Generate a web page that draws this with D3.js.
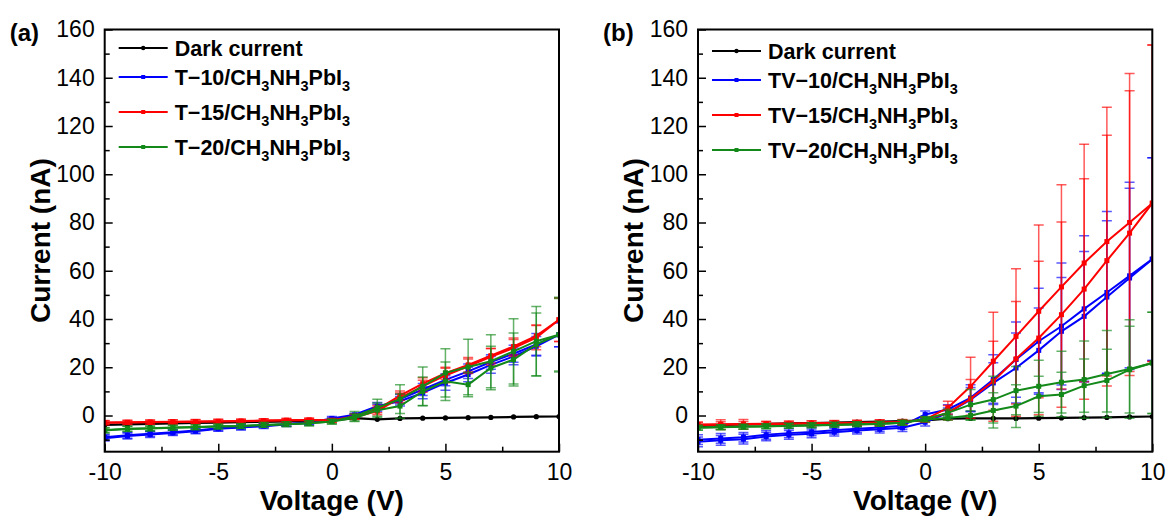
<!DOCTYPE html>
<html>
<head>
<meta charset="utf-8">
<script src="https://d3js.org/d3.v7.min.js"></script>
<style>
  body { margin: 0; background: #fff; }
  text { font-family: Arial, "Liberation Sans", sans-serif; }
</style>
</head>
<body>
<script>
// voltages swept, -10 V .. 10 V in 1 V steps
var volts = d3.range(-10, 11);

var yMajor = [0, 20, 40, 60, 80, 100, 120, 140, 160];
var yMinor = [-10, 10, 30, 50, 70, 90, 110, 130, 150];
var xMajor = [-10, -5, 0, 5, 10];
var xMinor = [-7.5, -2.5, 2.5, 7.5];

// ---- panel (a) ----
var aDark   = [-3.9,-3.7,-3.5,-3.3,-3.1,-3.0,-2.8,-2.6,-2.4,-2.2,-2.0,-1.1,-1.6,-1.2,-1.1,-1.0,-0.9,-0.8,-0.6,-0.5,-0.4];
var aT10f   = [-9.4,-8.5,-7.9,-7.2,-6.5,-5.5,-5.0,-4.4,-3.7,-3.0,-1.2,0.3,3.9,5.9,9.4,13.5,17.0,21.0,24.5,28.7,33.5];
var aT10r   = [-9.0,-8.2,-7.6,-6.9,-6.2,-5.3,-4.8,-4.2,-3.5,-2.8,-1.6,0.0,3.2,6.8,10.8,14.8,18.3,22.2,25.6,29.5,33.5];
var aT10fE  = [1.2,1.2,1.2,1.1,1.1,1.0,1.0,1.0,0.9,0.9,0.8,0.6,1.5,2.0,2.5,3.0,3.0,3.5,3.5,4.0,5.0];
var aT10rE  = [1.2,1.2,1.1,1.1,1.0,1.0,1.0,0.9,0.9,0.8,0.8,0.6,1.5,2.0,2.5,2.5,3.0,3.0,3.5,4.5,5.0];
var aT15f   = [-3.0,-2.9,-2.8,-2.7,-2.6,-2.5,-2.4,-2.2,-2.0,-1.9,-2.2,-0.7,1.8,7.3,12.1,16.6,20.4,24.3,28.0,32.3,39.7];
var aT15r   = [-2.9,-2.8,-2.7,-2.6,-2.5,-2.4,-2.3,-2.1,-2.0,-1.9,-2.0,-0.4,2.6,8.2,13.2,17.5,21.0,24.8,28.6,33.0,39.7];
var aT15fE  = [0.8,0.8,0.8,0.8,0.8,0.8,0.8,0.8,0.8,0.8,0.8,1.0,1.5,2.0,2.5,3.0,3.0,3.5,3.5,5.0,9.0];
var aT15rE  = [0.8,0.8,0.8,0.8,0.8,0.8,0.8,0.8,0.8,0.8,0.8,1.0,1.5,2.0,2.5,2.5,3.0,3.0,3.5,4.5,9.0];
var aT20f   = [-6.2,-5.5,-5.4,-5.1,-4.9,-4.6,-4.4,-3.9,-3.6,-3.2,-2.5,-0.3,3.2,6.8,12.1,17.7,20.1,22.5,26.6,30.8,33.5];
var aT20r   = [-6.0,-5.6,-5.3,-5.0,-4.8,-4.5,-4.3,-3.9,-3.6,-3.2,-2.5,-1.0,2.2,3.9,10.0,14.2,12.8,19.7,23.2,29.5,33.5];
var aT20fE  = [1.0,1.0,1.0,1.0,1.0,1.0,1.0,1.0,1.0,1.0,1.0,2.0,3.5,6.0,8.0,10.0,11.5,11.0,13.5,14.4,15.5];
var aT20rE  = [1.0,1.0,1.0,1.0,1.0,1.0,1.0,1.0,1.0,1.0,1.0,1.5,3.0,5.0,6.0,8.0,5.0,9.0,11.0,13.0,15.0];

// ---- panel (b) ----
var bDark   = [-4.4,-4.0,-3.7,-3.5,-3.3,-3.1,-2.9,-2.7,-2.5,-2.3,-2.0,-1.3,-1.2,-1.2,-1.2,-1.1,-1.0,-0.9,-0.8,-0.6,-0.4];
var bTV10f  = [-10.0,-9.5,-9.0,-8.0,-7.3,-6.8,-6.1,-5.5,-5.0,-4.2,0.4,2.5,7.3,14.9,23.2,30.8,37.0,44.2,51.0,57.9,64.8];
var bTV10r  = [-10.9,-10.3,-9.8,-8.7,-8.0,-7.6,-6.9,-6.2,-5.7,-5.1,-2.8,1.1,6.6,13.5,19.7,27.0,34.9,41.1,49.1,57.0,64.8];
var bTV10fE = [2.0,2.0,2.0,1.8,1.8,1.6,1.6,1.5,1.5,1.5,1.5,2.0,5.5,10.3,15.6,22.0,26.2,30.3,33.6,38.8,42.0];
var bTV10rE = [2.0,2.0,2.0,1.8,1.8,1.6,1.6,1.5,1.5,1.5,1.5,2.0,5.0,8.4,14.5,17.6,22.3,26.9,31.6,37.2,42.0];
var bTV15f  = [-3.9,-3.8,-3.7,-3.6,-3.5,-3.3,-3.2,-3.1,-3.0,-2.8,-1.7,3.2,12.1,22.5,32.8,43.2,53.3,63.2,72.1,80.0,88.0];
var bTV15r  = [-3.7,-3.6,-3.5,-3.4,-3.3,-3.2,-3.1,-3.0,-2.9,-2.7,-1.7,1.1,6.9,14.2,23.5,32.1,41.8,52.4,64.2,75.6,88.0];
var bTV15fE = [1.0,2.0,2.0,1.0,1.0,1.0,1.0,1.0,1.2,1.0,1.0,2.7,12.0,20.3,28.0,35.8,42.3,49.2,55.7,61.8,65.6];
var bTV15rE = [1.0,1.0,1.0,1.0,1.0,1.0,1.0,1.0,1.0,1.0,1.0,3.0,8.0,16.6,23.8,31.8,38.4,45.7,52.0,59.0,65.6];
var bTV20f  = [-5.1,-4.9,-4.7,-4.5,-4.3,-4.1,-3.9,-3.7,-3.5,-3.0,-1.4,1.1,4.5,6.6,10.3,12.1,13.8,14.9,17.2,19.3,21.8];
var bTV20r  = [-5.0,-4.8,-4.6,-4.4,-4.2,-4.0,-3.8,-3.6,-3.4,-3.0,-1.7,-1.0,0.0,2.1,3.9,8.0,8.7,12.4,14.5,19.0,21.8];
var bTV20fE = [1.0,1.0,1.0,1.0,1.0,1.0,1.0,1.0,1.0,1.0,1.0,1.5,6.3,9.7,10.0,10.8,12.8,16.0,18.0,20.4,21.0];
var bTV20rE = [1.0,1.0,1.0,1.0,1.0,1.0,1.0,1.0,1.0,1.0,1.0,1.0,2.0,7.3,8.9,8.3,9.2,11.0,13.0,18.0,21.0];

var blue = "#0000ff", red = "#ff0000", green = "#13891a";

var panels = [
  {
    tag: "(a)", left: 104.7, prefix: "T\u2212", legendTop: 48,
    dark: aDark,
    series: [
      {name: "10", color: blue,  sweeps: [[aT10f, aT10fE], [aT10r, aT10rE]]},
      {name: "15", color: red,   sweeps: [[aT15f, aT15fE], [aT15r, aT15rE]]},
      {name: "20", color: green, sweeps: [[aT20f, aT20fE], [aT20r, aT20rE]]}
    ]
  },
  {
    tag: "(b)", left: 698, prefix: "TV\u2212", legendTop: 51,
    dark: bDark,
    series: [
      {name: "10", color: blue,  sweeps: [[bTV10f, bTV10fE], [bTV10r, bTV10rE]]},
      {name: "15", color: red,   sweeps: [[bTV15f, bTV15fE], [bTV15r, bTV15rE]]},
      {name: "20", color: green, sweeps: [[bTV20f, bTV20fE], [bTV20r, bTV20rE]]}
    ]
  }
];

var W = 1168, H = 518;
var plotTop = 29.5, pw = 454.3, ph = 422.2;
var fontStack = "Arial, 'Liberation Sans', sans-serif";

var svg = d3.select("body").append("svg")
  .attr("width", W).attr("height", H);
svg.append("rect").attr("width", W).attr("height", H).attr("fill", "#fff");

panels.forEach(function (p, pi) {
  var g = svg.append("g").attr("transform", "translate(" + p.left + "," + plotTop + ")");
  var x = d3.scaleLinear().domain([-10, 10]).range([0, pw]);
  var y = d3.scaleLinear().domain([-15, 160]).range([ph, 0]);

  var clipId = "clip" + pi;
  g.append("clipPath").attr("id", clipId)
    .append("rect").attr("width", pw).attr("height", ph);

  var plot = g.append("g").attr("clip-path", "url(#" + clipId + ")");
  var line = d3.line().x(function (d, i) { return x(volts[i]); }).y(function (d) { return y(d); });

  // dark current
  plot.append("path").datum(p.dark)
    .attr("d", line).attr("fill", "none").attr("stroke", "#000").attr("stroke-width", 2.2);
  plot.append("g").selectAll("circle").data(p.dark).enter().append("circle")
    .attr("cx", function (d, i) { return x(volts[i]); })
    .attr("cy", function (d) { return y(d); })
    .attr("r", 2.6).attr("fill", "#000");

  // illuminated series: error bars, lines, markers
  p.series.forEach(function (s) {
    s.sweeps.forEach(function (sw) {
      var vals = sw[0], errs = sw[1];
      var eb = plot.append("g").attr("stroke", s.color).attr("stroke-opacity", 0.65).attr("stroke-width", 1.5);
      vals.forEach(function (v, i) {
        var cx = x(volts[i]), y1 = y(v + errs[i]), y2 = y(v - errs[i]);
        eb.append("line").attr("x1", cx).attr("x2", cx).attr("y1", y1).attr("y2", y2);
        eb.append("line").attr("x1", cx - 5).attr("x2", cx + 5).attr("y1", y1).attr("y2", y1);
        eb.append("line").attr("x1", cx - 5).attr("x2", cx + 5).attr("y1", y2).attr("y2", y2);
      });
    });
    s.sweeps.forEach(function (sw) {
      var vals = sw[0];
      plot.append("path").datum(vals)
        .attr("d", line).attr("fill", "none").attr("stroke", s.color).attr("stroke-width", 2);
      plot.append("g").selectAll("rect").data(vals).enter().append("rect")
        .attr("x", function (d, i) { return x(volts[i]) - 2.5; })
        .attr("y", function (d) { return y(d) - 2.5; })
        .attr("width", 5).attr("height", 5).attr("fill", s.color);
    });
  });

  // axes, ticks pointing inward
  var fmt = function (d) { return String(d); };
  var ax = g.append("g").attr("transform", "translate(0," + ph + ")")
    .call(d3.axisBottom(x).tickValues(xMajor).tickFormat(fmt).tickSize(-8).tickPadding(12));
  g.append("g").attr("transform", "translate(0," + ph + ")")
    .call(d3.axisBottom(x).tickValues(xMinor).tickFormat("").tickSize(-5));
  var ay = g.append("g")
    .call(d3.axisLeft(y).tickValues(yMajor).tickFormat(fmt).tickSize(-8).tickPadding(10));
  g.append("g")
    .call(d3.axisLeft(y).tickValues(yMinor).tickFormat("").tickSize(-5));
  g.selectAll(".domain").remove();
  g.selectAll(".tick line").attr("stroke", "#000").attr("stroke-width", 1.5);
  ax.selectAll("text").attr("font-size", 23).attr("fill", "#000").attr("font-family", fontStack);
  ay.selectAll("text").attr("font-size", 23).attr("fill", "#000").attr("font-family", fontStack);

  g.append("rect").attr("width", pw).attr("height", ph)
    .attr("fill", "none").attr("stroke", "#000").attr("stroke-width", 2);

  // axis titles
  g.append("text").attr("x", pw / 2).attr("y", 510 - plotTop)
    .attr("text-anchor", "middle").attr("font-size", 28).attr("font-weight", "bold")
    .text("Voltage (V)");
  g.append("text")
    .attr("transform", "translate(" + (-55) + "," + (ph / 2) + ") rotate(-90)")
    .attr("text-anchor", "middle").attr("font-size", 28).attr("font-weight", "bold")
    .text("Current (nA)");

  // panel tag
  svg.append("text").attr("x", p.left - 95).attr("y", 41)
    .attr("font-size", 24).attr("font-weight", "bold").text(p.tag);

  // legend
  var rows = [0, 29, 64, 99];
  var items = [{color: "#000", dark: true}].concat(p.series);
  items.forEach(function (it, k) {
    var ly = p.legendTop + rows[k];
    var lx = p.left + 14;
    svg.append("line").attr("x1", lx).attr("x2", lx + 49).attr("y1", ly).attr("y2", ly)
      .attr("stroke", it.color).attr("stroke-width", 1.8);
    if (it.dark) {
      svg.append("circle").attr("cx", lx + 24.5).attr("cy", ly).attr("r", 2.2).attr("fill", "#000");
    } else {
      svg.append("rect").attr("x", lx + 22.5).attr("y", ly - 2).attr("width", 4).attr("height", 4).attr("fill", it.color);
    }
    var t = svg.append("text").attr("x", lx + 56).attr("y", ly + 7.5)
      .attr("font-size", 21.5).attr("font-weight", "bold");
    if (it.dark) {
      t.text("Dark current");
    } else {
      var parts = [[p.prefix + it.name + "/CH", 0], ["3", 1], ["NH", 0], ["3", 1], ["PbI", 0], ["3", 1]];
      parts.forEach(function (pt, i) {
        var sp = t.append("tspan").text(pt[0]);
        if (pt[1]) sp.attr("font-size", 14.5).attr("dy", 6);
        else if (i > 0) sp.attr("dy", -6);
      });
    }
  });
});
</script>
</body>
</html>
